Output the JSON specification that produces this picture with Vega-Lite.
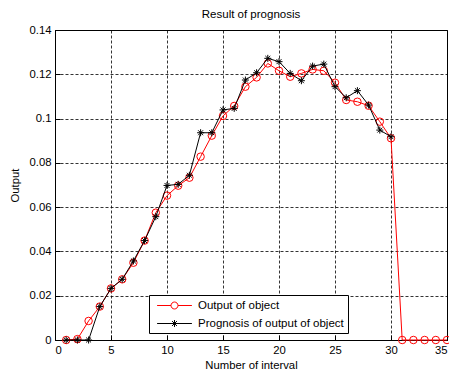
{
  "$schema": "https://vega.github.io/schema/vega-lite/v6.json",
  "width": 392,
  "height": 310,
  "autosize": "none",
  "padding": {"left": 55, "top": 30, "right": 2, "bottom": 32},
  "background": "white",
  "title": {"text": "Result of prognosis", "font": "Liberation Sans", "fontSize": 11.5, "fontWeight": "normal", "color": "black", "offset": 4},
  "config": {
    "view": {"stroke": "black", "strokeWidth": 1},
    "axis": {
      "domainColor": "black", "tickColor": "black", "gridColor": "black", "gridDash": [3, 2], "gridOpacity": 1, "gridWidth": 0.8,
      "labelFont": "Liberation Sans", "labelFontSize": 11.3, "labelColor": "black",
      "titleFont": "Liberation Sans", "titleFontSize": 11.3, "titleFontWeight": "normal", "titleColor": "black",
      "tickSize": -5, "labelPadding": 9, "domainWidth": 1
    }
  },
  "data": {"values": [
    {"x":1,"series":"Output of object","y":0},
    {"x":2,"series":"Output of object","y":0.0004},
    {"x":3,"series":"Output of object","y":0.0086},
    {"x":4,"series":"Output of object","y":0.0151},
    {"x":5,"series":"Output of object","y":0.0233},
    {"x":6,"series":"Output of object","y":0.0274},
    {"x":7,"series":"Output of object","y":0.0349},
    {"x":8,"series":"Output of object","y":0.0449},
    {"x":9,"series":"Output of object","y":0.0575},
    {"x":10,"series":"Output of object","y":0.0652},
    {"x":11,"series":"Output of object","y":0.0697},
    {"x":12,"series":"Output of object","y":0.0733},
    {"x":13,"series":"Output of object","y":0.0828},
    {"x":14,"series":"Output of object","y":0.0923},
    {"x":15,"series":"Output of object","y":0.1012},
    {"x":16,"series":"Output of object","y":0.1057},
    {"x":17,"series":"Output of object","y":0.1144},
    {"x":18,"series":"Output of object","y":0.1186},
    {"x":19,"series":"Output of object","y":0.1249},
    {"x":20,"series":"Output of object","y":0.1216},
    {"x":21,"series":"Output of object","y":0.1189},
    {"x":22,"series":"Output of object","y":0.1204},
    {"x":23,"series":"Output of object","y":0.1222},
    {"x":24,"series":"Output of object","y":0.1216},
    {"x":25,"series":"Output of object","y":0.1162},
    {"x":26,"series":"Output of object","y":0.1084},
    {"x":27,"series":"Output of object","y":0.1076},
    {"x":28,"series":"Output of object","y":0.1058},
    {"x":29,"series":"Output of object","y":0.0986},
    {"x":30,"series":"Output of object","y":0.0911},
    {"x":31,"series":"Output of object","y":0},
    {"x":32,"series":"Output of object","y":0},
    {"x":33,"series":"Output of object","y":0},
    {"x":34,"series":"Output of object","y":0},
    {"x":35,"series":"Output of object","y":0},
    {"x":1,"series":"Prognosis of output of object","y":0},
    {"x":2,"series":"Prognosis of output of object","y":0},
    {"x":3,"series":"Prognosis of output of object","y":0},
    {"x":4,"series":"Prognosis of output of object","y":0.0151},
    {"x":5,"series":"Prognosis of output of object","y":0.0233},
    {"x":6,"series":"Prognosis of output of object","y":0.0274},
    {"x":7,"series":"Prognosis of output of object","y":0.0357},
    {"x":8,"series":"Prognosis of output of object","y":0.0449},
    {"x":9,"series":"Prognosis of output of object","y":0.0557},
    {"x":10,"series":"Prognosis of output of object","y":0.0698},
    {"x":11,"series":"Prognosis of output of object","y":0.0703},
    {"x":12,"series":"Prognosis of output of object","y":0.0744},
    {"x":13,"series":"Prognosis of output of object","y":0.0936},
    {"x":14,"series":"Prognosis of output of object","y":0.0936},
    {"x":15,"series":"Prognosis of output of object","y":0.1039},
    {"x":16,"series":"Prognosis of output of object","y":0.1046},
    {"x":17,"series":"Prognosis of output of object","y":0.1174},
    {"x":18,"series":"Prognosis of output of object","y":0.1207},
    {"x":19,"series":"Prognosis of output of object","y":0.1272},
    {"x":20,"series":"Prognosis of output of object","y":0.1257},
    {"x":21,"series":"Prognosis of output of object","y":0.1204},
    {"x":22,"series":"Prognosis of output of object","y":0.1171},
    {"x":23,"series":"Prognosis of output of object","y":0.1237},
    {"x":24,"series":"Prognosis of output of object","y":0.1246},
    {"x":25,"series":"Prognosis of output of object","y":0.1144},
    {"x":26,"series":"Prognosis of output of object","y":0.1094},
    {"x":27,"series":"Prognosis of output of object","y":0.1126},
    {"x":28,"series":"Prognosis of output of object","y":0.1061},
    {"x":29,"series":"Prognosis of output of object","y":0.0948},
    {"x":30,"series":"Prognosis of output of object","y":0.0918}
  ]},
  "encoding": {
    "x": {"field": "x", "type": "quantitative", "scale": {"domain": [0, 35], "nice": false, "zero": false},
      "axis": {"title": "Number of interval", "values": [0,5,10,15,20,25,30,35], "grid": true, "titlePadding": 4}},
    "y": {"field": "y", "type": "quantitative", "scale": {"domain": [0, 0.14], "nice": false},
      "axis": {"title": "Output", "values": [0,0.02,0.04,0.06,0.08,0.1,0.12,0.14], "format": "~g", "grid": true, "titlePadding": 9}}
  },
  "layer": [
    {"transform": [{"filter": "datum.series == 'Output of object'"}], "mark": {"type": "line", "strokeWidth": 1},
      "encoding": {"color": {"field": "series", "type": "nominal",
      "scale": {"domain": ["Output of object", "Prognosis of output of object"], "range": ["#ff0000", "#000000"]},
      "legend": {
        "title": null, "orient": "none", "legendX": 94, "legendY": 265, "direction": "vertical",
        "strokeColor": "black", "fillColor": "white", "padding": 4,
        "labelFont": "Liberation Sans", "labelFontSize": 11.5, "labelColor": "black",
        "symbolSize": 144, "symbolOffset": 15, "labelOffset": 17, "rowPadding": 6,
        "encode": {"symbols": {"update": {
          "shape": {"signal": "datum.value == 'Output of object' ? 'M-2.9,0H-0.58M0.58,0H2.9M-0.58,0A0.58,0.58 0 1,0 0.58,0A0.58,0.58 0 1,0 -0.58,0' : 'M-2.9,0H2.9M0,-0.58V0.58M-0.41,-0.41L0.41,0.41M-0.41,0.41L0.41,-0.41'"},
          "stroke": {"signal": "datum.value == 'Output of object' ? '#ff0000' : '#000000'"},
          "fill": {"value": "transparent"},
          "strokeWidth": {"value": 1},
          "opacity": {"value": 1}
        }}}
      }}}},
    {"transform": [{"filter": "datum.series == 'Output of object'"}], "mark": {"type": "point", "shape": "circle", "color": "#ff0000", "filled": false, "size": 56, "strokeWidth": 1, "opacity": 1}},
    {"transform": [{"filter": "datum.series != 'Output of object'"}], "mark": {"type": "line", "strokeWidth": 1},
      "encoding": {"color": {"field": "series", "type": "nominal"}}},
    {"transform": [{"filter": "datum.series != 'Output of object'"}], "mark": {"type": "point", "shape": "M0,-1V1M-1,0H1M-0.7,-0.7L0.7,0.7M-0.7,0.7L0.7,-0.7", "color": "#000000", "filled": false, "size": 49, "strokeWidth": 1, "opacity": 1}}
  ]
}
